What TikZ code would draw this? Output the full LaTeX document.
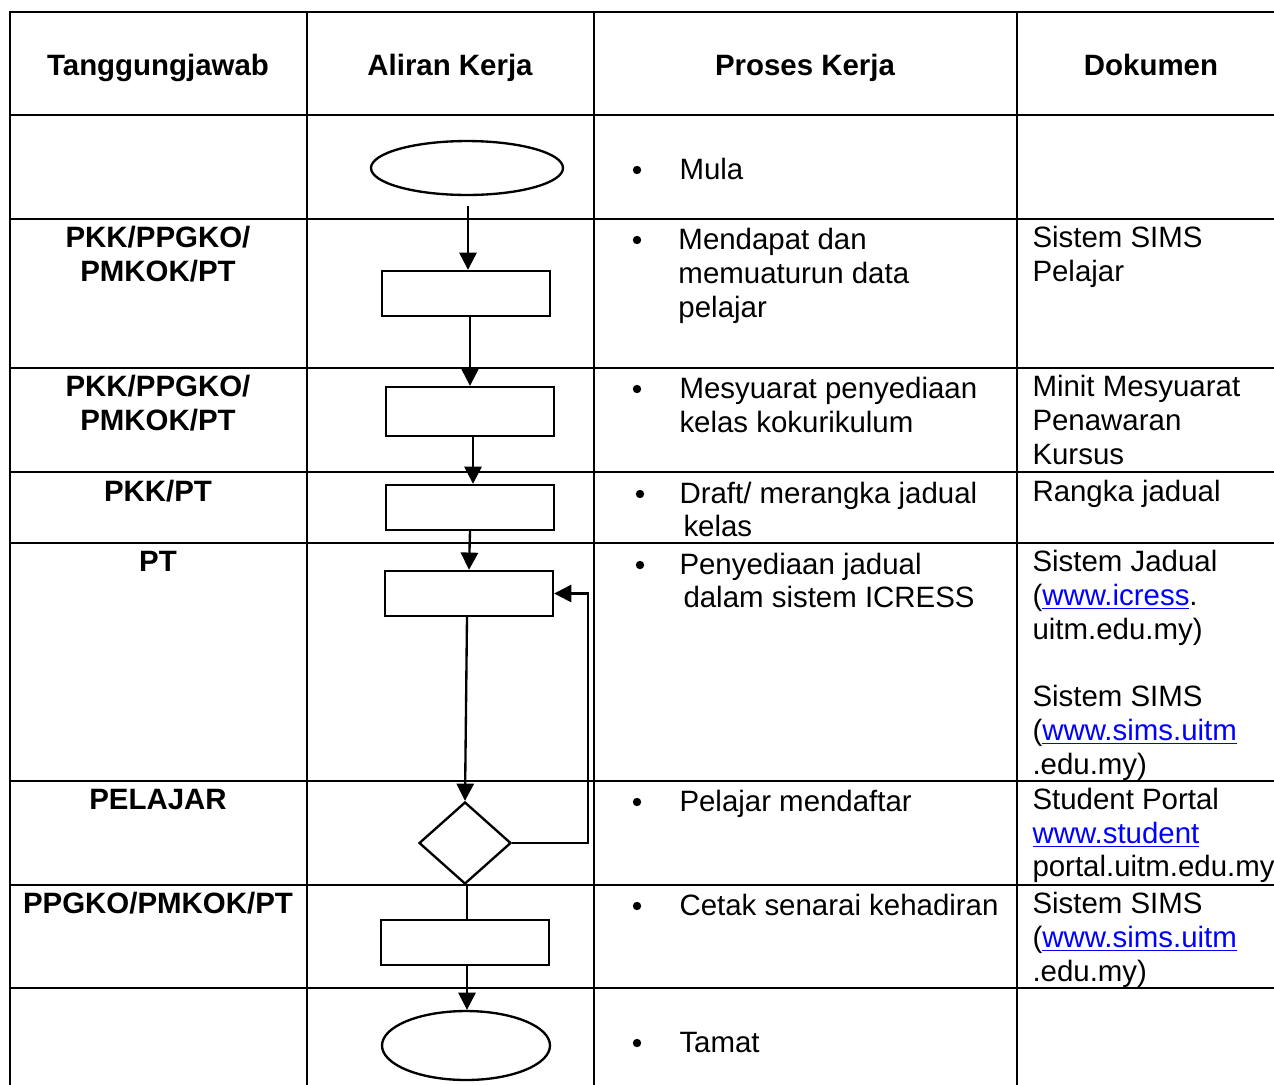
\documentclass[tikz,border=0pt]{standalone}
\usepackage{fontspec}
\setmainfont{Liberation Sans}
\usetikzlibrary{shapes.geometric,arrows.meta}
\begin{document}
\begin{tikzpicture}[x=0.406pt,y=-0.406pt,
 txt/.style={inner sep=0pt,anchor=base west,font=\fontsize{11.95pt}{13.8pt}\selectfont},
 hd/.style={inner sep=0pt,anchor=base,font=\fontsize{11.95pt}{13.8pt}\selectfont\bfseries},
 fbox/.style={draw,line width=0.95pt,minimum width=68.2pt,minimum height=18.3pt,inner sep=0pt},
 arr/.style={line width=0.95pt,-{Triangle[length=7pt,width=7pt]}},
 bul/.style={circle,fill,inner sep=0pt,minimum size=3.4pt},
 outer/.style={line width=1.2pt},
 inner/.style={line width=0.9pt}
]
\newcommand{\lnk}[1]{\textcolor{blue}{\underline{#1}}}
\useasboundingbox (0,0) rectangle (1274,1084);
\clip (0,0) rectangle (1274,1084);
\fill[white] (0,0) rectangle (1274,1084);
% table grid
\draw[outer] (10,1100) -- (10,12) -- (1300,12);
\foreach \x in {307,594,1017} \draw[inner] (\x,12) -- (\x,1100);
\draw[outer] (10,115) -- (1300,115);
\foreach \y in {219,368,472,543,781,885,988} \draw[inner] (10,\y) -- (1300,\y);
% headers
\node[hd] (h1) at (158,75) {Tanggungjawab};
\node[hd] (h2) at (450,75) {Aliran Kerja};
\node[hd] (h3) at (805,75) {Proses Kerja};
\node[hd] (h4) at (1151,75) {Dokumen};
% responsibility
\node[hd] (r2a) at (158,247) {PKK/PPGKO/};
\node[hd] (r2b) at (158,281) {PMKOK/PT};
\node[hd] (r3a) at (158,396) {PKK/PPGKO/};
\node[hd] (r3b) at (158,430) {PMKOK/PT};
\node[hd] (r4) at (158,501) {PKK/PT};
\node[hd] (r5) at (158,571) {PT};
\node[hd] (r6) at (158,809) {PELAJAR};
\node[hd] (r7) at (158,913) {PPGKO/PMKOK/PT};
% process bullets and text
\node[bul] (b1d) at (637,170) {};
\node[txt] (p1) at (679,179) {Mula};
\node[bul] (b2d) at (637,240) {};
\node[txt] (p2a) at (678,249) {Mendapat dan};
\node[txt] (p2b) at (678,283) {memuaturun data};
\node[txt] (p2c) at (678,317) {pelajar};
\node[bul] (b3d) at (637,389) {};
\node[txt] (p3a) at (679,398) {Mesyuarat penyediaan};
\node[txt] (p3b) at (679,432) {kelas kokurikulum};
\node[bul] (b4d) at (640,494) {};
\node[txt] (p4a) at (679,503) {Draft/ merangka jadual};
\node[txt] (p4b) at (683,536) {kelas};
\node[bul] (b5d) at (640,565) {};
\node[txt] (p5a) at (679,574) {Penyediaan jadual};
\node[txt] (p5b) at (683,607) {dalam sistem ICRESS};
\node[bul] (b6d) at (637,802) {};
\node[txt] (p6) at (679,811) {Pelajar mendaftar};
\node[bul] (b7d) at (637,906) {};
\node[txt] (p7) at (679,915) {Cetak senarai kehadiran};
\node[bul] (b8d) at (637,1043) {};
\node[txt] (p8) at (679,1052) {Tamat};
% documents
\node[txt] (d2a) at (1032,247) {Sistem SIMS};
\node[txt] (d2b) at (1032,281) {Pelajar};
\node[txt] (d3a) at (1032,396) {Minit Mesyuarat};
\node[txt] (d3b) at (1032,430) {Penawaran};
\node[txt] (d3c) at (1032,464) {Kursus};
\node[txt] (d4) at (1032,501) {Rangka jadual};
\node[txt] (d5a) at (1032,571) {Sistem Jadual};
\node[txt] (d5b) at (1032,605) {(\lnk{www.icress}.};
\node[txt] (d5c) at (1032,639) {uitm.edu.my)};
\node[txt] (d5d) at (1032,706) {Sistem SIMS};
\node[txt] (d5e) at (1032,740) {(\lnk{www.sims.uitm}};
\node[txt] (d5f) at (1032,774) {.edu.my)};
\node[txt] (d6a) at (1032,809) {Student Portal};
\node[txt] (d6b) at (1032,843) {\lnk{www.student}};
\node[txt] (d6c) at (1032,876) {portal.uitm.edu.my};
\node[txt] (d7a) at (1032,913) {Sistem SIMS};
\node[txt] (d7b) at (1032,947) {(\lnk{www.sims.uitm}};
\node[txt] (d7c) at (1032,981) {.edu.my)};
% flowchart
\node[draw,ellipse,line width=0.95pt,minimum width=77.95pt,minimum height=21.9pt,inner sep=0pt] (start) at (467,168) {};
\node[fbox] (s1) at (466,293.5) {};
\node[fbox,minimum height=19.9pt] (s2) at (470,411.5) {};
\node[fbox] (s3) at (470,507.5) {};
\node[fbox] (s4) at (469,593.5) {};
\node[draw,diamond,line width=0.95pt,minimum width=37.35pt,minimum height=33.3pt,inner sep=0pt] (dec) at (465,843) {};
\node[fbox] (s5) at (465,942.5) {};
\node[draw,ellipse,line width=0.95pt,minimum width=68.2pt,minimum height=28pt,inner sep=0pt] (stop) at (466,1045.5) {};
% connectors
\draw[arr] (start.south) ++(1,10) -- (s1.north -| 468,0);
\draw[arr] (s2.north |- s1.south) -- (s2.north);
\draw[arr] (473,0 |- s2.south) -- (473,0 |- s3.north);
\draw[arr] (s3.south) -- (s4.north);
\draw[arr] (s4.south) ++(-2,0) -- (dec.north);
\draw[line width=0.95pt] (467,0 |- dec.south) -- (467,0 |- s5.north);
\draw[arr] (467,0 |- s5.south) -- (467,0 |- stop.north);
\draw[arr] (dec.east) -- (588,0 |- dec.east) |- (s4.east);
\end{tikzpicture}
\end{document}
